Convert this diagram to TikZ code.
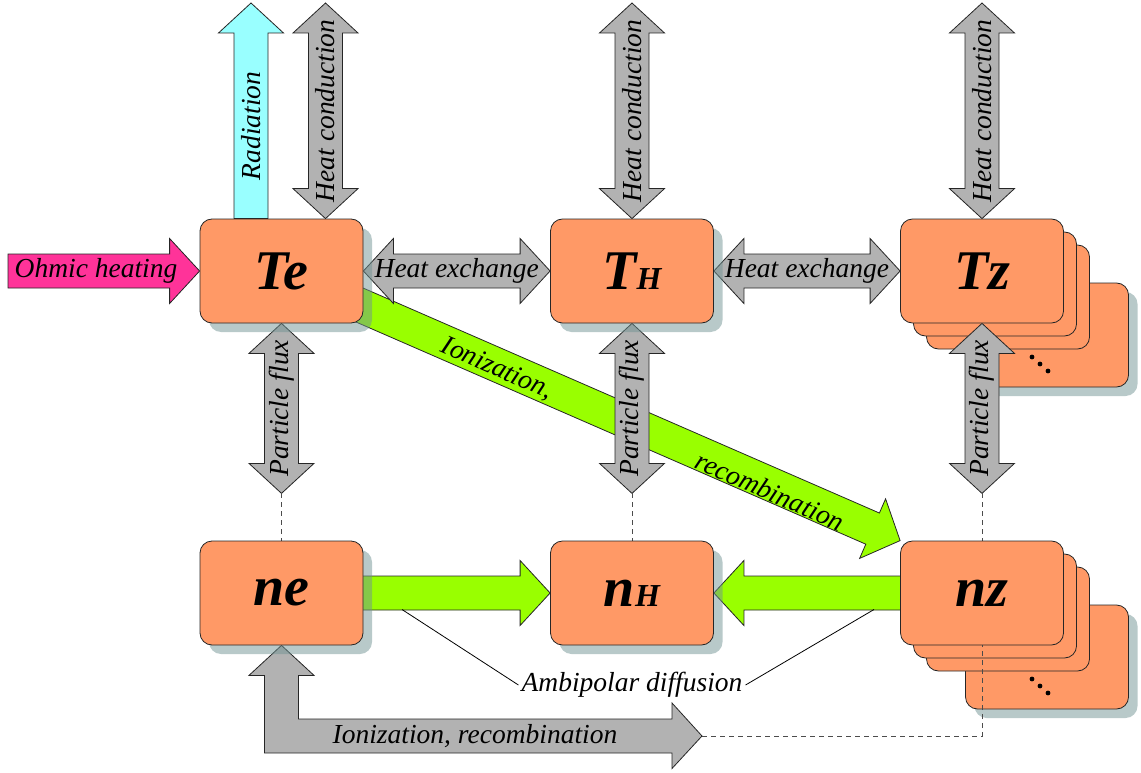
\documentclass[tikz,border=0pt]{standalone}
\usepackage{fontspec}
\setmainfont{Liberation Serif}
\usetikzlibrary{calc,shadows}

\definecolor{boxorange}{RGB}{255,153,102}
\definecolor{shadowteal}{RGB}{113,147,147}
\definecolor{arrowgray}{RGB}{178,178,178}
\definecolor{ohmpink}{RGB}{255,51,153}
\definecolor{radcyan}{RGB}{153,255,255}
\definecolor{iongreen}{RGB}{153,255,0}

\pgfdeclarelayer{stack}
\pgfdeclarelayer{arrows}
\pgfsetlayers{stack,arrows,main}

\tikzset{
  box/.style={draw=black!85,line width=0.8pt,fill=boxorange,rounded corners=12pt,
    minimum width=163pt,minimum height=104pt,inner sep=0pt,
    font=\fontsize{56}{60}\selectfont\bfseries\itshape},
  shadowed/.style={drop shadow={shadow xshift=9pt,shadow yshift=-9pt,fill=shadowteal,opacity=.5}},
  blockarrow/.style={draw=black!85,line width=0.8pt,line join=miter},
  arrowtext/.style={font=\fontsize{27.5}{30}\selectfont\itshape,inner sep=0pt},
  linkline/.style={dash pattern=on 5pt off 4pt,draw=black!70,line width=0.8pt}
}

% single block arrow: fill, tail, tip
\newcommand{\sarrow}[3]{%
  \coordinate (hb) at ($(#3)!30pt!(#2)$);
  \draw[blockarrow,fill=#1] ($(#2)!17pt!90:(#3)$) -- ($(hb)!17pt!90:(#3)$) -- ($(hb)!32.5pt!90:(#3)$) -- (#3)
    -- ($(hb)!32.5pt!-90:(#3)$) -- ($(hb)!17pt!-90:(#3)$) -- ($(#2)!17pt!-90:(#3)$) -- cycle;
}
% double block arrow between two points
\newcommand{\darrow}[2]{%
  \coordinate (ha) at ($(#1)!30pt!(#2)$);
  \coordinate (hb) at ($(#2)!30pt!(#1)$);
  \draw[blockarrow,fill=arrowgray] (#1) -- ($(ha)!32.5pt!90:(#2)$) -- ($(ha)!17pt!90:(#2)$)
    -- ($(hb)!17pt!90:(#2)$) -- ($(hb)!32.5pt!90:(#2)$) -- (#2) -- ($(hb)!32.5pt!-90:(#2)$)
    -- ($(hb)!17pt!-90:(#2)$) -- ($(ha)!17pt!-90:(#2)$) -- ($(ha)!32.5pt!-90:(#2)$) -- cycle;
}

\begin{document}
\begin{tikzpicture}[x=1pt,y=-1pt]
  \useasboundingbox (0,0) rectangle (1141,773);

  % temperatures and densities
  \node[box,shadowed] (Te) at (281.5,271) {Te};
  \node[box,shadowed] (TH) at (632,271) {T{\fontsize{32}{34}\selectfont H}};
  \node[box] (Tz) at (982,271) {Tz};
  \node[box,shadowed] (ne) at (281.5,593) {ne};
  \node[box,shadowed] (nH) at (632,593) {n{\fontsize{32}{34}\selectfont H}};
  \node[box] (nz) at (982,593) {nz};

  % stacked impurity boxes
  \begin{pgfonlayer}{stack}
    \foreach \row in {Tz,nz} {
      \node[box,shadowed] (\row4) at ($(\row)+(65,64)$) {};
      \foreach \dx/\dy in {-15/22,-7/29,1/36}
        \fill ($(\row4)+(\dx,\dy)$) circle (2.4pt);
      \node[box] (\row3) at ($(\row)+(26,26)$) {};
      \node[box] (\row2) at ($(\row)+(13,13)$) {};
    }
  \end{pgfonlayer}

  \begin{pgfonlayer}{arrows}
    % ionization and recombination
    \sarrow{iongreen}{Te.center}{nz.north west}
    \node[arrowtext,rotate=-23.65] (ion1) at (497,369) {Ionization,};
    \node[arrowtext,rotate=-23.65] (ion2) at (770,491) {recombination};
    \sarrow{iongreen}{ne.center}{nH.west}
    \sarrow{iongreen}{nz.center}{nH.east}

    % sources and losses
    \coordinate (ohm) at (8,271);
    \sarrow{ohmpink}{ohm}{Te.west}
    \node[arrowtext] (ohmtxt) at (96,271) {Ohmic heating};
    \coordinate (radfoot) at ($(Te.north)+(-30.5,0)$);
    \coordinate (radtop) at (251,3);
    \sarrow{radcyan}{radfoot}{radtop}
    \node[arrowtext,rotate=90] (radtxt) at (251,126) {Radiation};

    % heat conduction
    \coordinate (hcfoot) at ($(Te.north)+(44,0)$);
    \coordinate (hctop1) at (325.5,3);
    \coordinate (hctop2) at (632,3);
    \coordinate (hctop3) at (982,3);
    \darrow{hcfoot}{hctop1}
    \darrow{TH.north}{hctop2}
    \darrow{Tz.north}{hctop3}
    \node[arrowtext,rotate=90] (hc1) at (325.5,111) {Heat conduction};
    \node[arrowtext,rotate=90] (hc2) at (632,111) {Heat conduction};
    \node[arrowtext,rotate=90] (hc3) at (982,111) {Heat conduction};

    % heat exchange
    \darrow{Te.east}{TH.west}
    \darrow{TH.east}{Tz.west}
    \node[arrowtext] (hx1) at ($(Te.east)!.5!(TH.west)$) {Heat exchange};
    \node[arrowtext] (hx2) at ($(TH.east)!.5!(Tz.west)$) {Heat exchange};

    % particle flux
    \foreach \t/\n/\k in {Te/ne/1,TH/nH/2,Tz/nz/3} {
      \coordinate (pf\k) at ($(\t.south)+(0,170)$);
      \darrow{\t.south}{pf\k}
      \node[arrowtext,rotate=90] (pft\k) at ($(\t.south)!.5!(pf\k)$) {Particle flux};
      \draw[linkline] (pf\k) -- (\n.north);
    }

    \coordinate (ionend) at (702,736);
    \coordinate (ioncorner) at (ne.south |- ionend);
    \draw[blockarrow,fill=arrowgray] (ne.south) -- ++(32.5,30) -- ++(-15.5,0)
      -- ($(ioncorner)+(17,-17)$) -- ($(ionend)+(-30,-17)$) -- ++(0,-16) -- (ionend)
      -- ++(-30,32.5) -- ++(0,-15.5) -- ($(ioncorner)+(-17,17)$)
      -- ($(ne.south)+(-17,30)$) -- ++(-15.5,0) -- cycle;
    \node[arrowtext] (iontxt) at (475,736) {Ionization, recombination};
    \draw[linkline] (ionend) -- (ionend -| nz.south) -- (nz.south);

    % ambipolar diffusion
    \node[arrowtext,inner sep=3pt] (amb) at (632,685) {Ambipolar diffusion};
    \coordinate (ambl) at (402,609.5);
    \coordinate (ambr) at (874,609.5);
    \draw[line width=0.8pt] (ambl) -- (amb.west);
    \draw[line width=0.8pt] (ambr) -- (amb.east);
  \end{pgfonlayer}
\end{tikzpicture}
\end{document}
